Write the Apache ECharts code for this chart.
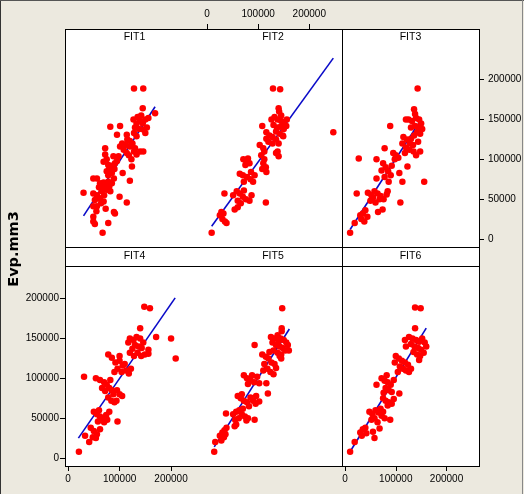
<!DOCTYPE html>
<html>
<head>
<meta charset="utf-8">
<script src="https://cdn.jsdelivr.net/npm/echarts@6/dist/echarts.min.js"></script>
<style>
html,body{margin:0;padding:0;background:#ECE9DF;}
#chart{width:524px;height:494px;}
</style>
</head>
<body>
<div id="chart"></div>
<script>
// ---- data ----
const panels = ['FIT1', 'FIT2', 'FIT3', 'FIT4', 'FIT5', 'FIT6'];
const xTicks = [0, 100000, 200000];
const yTicks = [0, 50000, 100000, 150000, 200000];
const yTitle = 'Evp.mm3';

const fit1 = [
[128000,189000],[146000,189000],[145000,164000],[169000,158000],[82000,141000],[101000,142000],
[127000,150000],[135000,153000],[140000,148000],[145000,145000],[150000,150000],[156000,152000],[130000,140000],[138000,138000],[147000,137000],[153000,140000],[133000,145000],[142000,155000],[128000,133000],[150000,133000],
[114000,131000],[133000,129000],[95000,131000],
[111000,118000],[101000,116000],[120000,116000],[130000,114000],[140000,110000],
[72000,114000],[72000,106000],[146000,110000],
[88000,104000],[98000,104000],[114000,108000],[133000,106000],
[69000,97000],[78000,93000],[91000,95000],[124000,91000],
[75000,85000],[85000,83000],[106000,83000],[89000,76000],[120000,73000],
[49000,76000],[56000,76000],[62000,70000],[69000,71000],[78000,72000],
[30000,58000],[49000,57000],[56000,55000],[65000,60000],[75000,62000],[82000,60000],
[52000,49000],[62000,51000],[69000,47000],[100000,53000],[114000,46000],
[49000,41000],[56000,41000],[73000,38000],[89000,34000],[91000,32000],
[49000,28000],[49000,22000],[52000,19000],[78000,20000],[67000,8000],
[60000,65000],[66000,66000],[72000,67000],[58000,52000],[64000,45000],[70000,55000],[80000,66000],[85000,70000],[55000,35000],
[75000,100000],[80000,88000],[84000,92000],[90000,88000],[95000,98000],[78000,80000],
[105000,120000],[115000,125000],[120000,123000],[125000,120000],[108000,112000],[118000,105000],[123000,100000],[128000,110000]
];
const fit2 = [
[129000,189000],[143000,188000],[140000,164000],[141000,160000],[145000,155000],
[126000,150000],[132000,153000],[138000,150000],[145000,148000],[150000,145000],[155000,142000],[130000,143000],[137000,140000],[144000,141000],[150000,138000],[135000,135000],[142000,132000],[148000,130000],[156000,150000],
[108000,142000],
[116000,134000],[122000,130000],[128000,128000],[135000,125000],[120000,122000],[128000,120000],[140000,120000],[149000,129000],[116000,126000],
[103000,118000],[110000,114000],
[135000,108000],[140000,104000],[138000,110000],
[106000,105000],[112000,100000],[110000,95000],[115000,90000],[108000,88000],[116000,84000],[112000,110000],
[71000,100000],[77000,98000],[83000,95000],[75000,93000],[80000,101000],
[64000,82000],[70000,80000],[78000,78000],[85000,75000],[90000,72000],[93000,80000],[72000,72000],[86000,84000],
[34000,57000],
[51000,55000],[58000,60000],[64000,57000],[70000,53000],[76000,50000],[83000,48000],[87000,55000],[60000,48000],[66000,45000],[72000,61000],
[115000,46000],
[54000,37000],[60000,40000],
[25000,30000],[30000,25000],[35000,22000],[38000,20000],[32000,32000],[28000,34000],
[9000,8000],
[247000,134000]
];
const fit3 = [
[143000,189000],[136000,163000],[138000,157000],
[125000,150000],[132000,148000],[140000,152000],[146000,150000],[150000,145000],[145000,140000],[138000,142000],[130000,140000],[152000,138000],[142000,134000],[136000,130000],[148000,132000],
[120000,150000],[89000,142000],
[115000,128000],[122000,125000],[128000,120000],[134000,118000],[120000,115000],[127000,112000],[135000,110000],[140000,105000],[118000,108000],[113000,120000],[130000,126000],[144000,122000],
[148000,110000],[78000,114000],
[95000,108000],[100000,105000],[105000,102000],[98000,100000],
[27000,101000],[62000,100000],
[75000,95000],[80000,90000],[85000,85000],[90000,80000],[78000,78000],[86000,72000],[92000,92000],[72000,86000],
[123000,91000],[107000,83000],[113000,72000],[62000,76000],[156000,72000],
[23000,57000],
[45000,58000],[52000,55000],[58000,60000],[64000,57000],[70000,54000],[76000,50000],[82000,56000],[50000,48000],[60000,46000],[68000,50000],[84000,60000],[55000,52000],
[109000,46000],
[65000,34000],[74000,37000],
[30000,30000],[35000,32000],[40000,36000],[44000,28000],[38000,22000],[32000,25000],
[19000,20000],[10000,8000]
];
const fit4 = [
[148000,190000],[159000,188000],[140000,163000],
[120000,150000],[127000,148000],[133000,152000],[140000,150000],[146000,145000],[130000,142000],[137000,140000],[143000,138000],[125000,137000],[149000,130000],[135000,132000],[142000,128000],[128000,128000],[120000,132000],[117000,145000],
[171000,152000],[200000,150000],[209000,125000],
[156000,136000],[156000,131000],
[78000,130000],
[85000,126000],[92000,120000],[100000,122000],[106000,116000],[96000,112000],[104000,108000],[90000,108000],[110000,118000],[113000,110000],[118000,106000],[122000,112000],[100000,128000],
[31000,102000],[54000,100000],
[62000,98000],[70000,95000],[75000,92000],[80000,88000],[85000,85000],[88000,80000],[72000,84000],[78000,76000],[84000,72000],[90000,70000],[94000,72000],[66000,88000],[82000,98000],
[95000,85000],[100000,80000],[105000,78000],
[96000,46000],
[50000,58000],[56000,55000],[62000,52000],[68000,50000],[74000,54000],[80000,58000],[60000,60000],[70000,45000],[76000,48000],[58000,46000],
[33000,28000],
[44000,38000],[50000,34000],[56000,30000],[62000,36000],[48000,26000],
[41000,20000],[54000,25000],[21000,8000]
];
const fit5 = [
[147000,188000],[146000,163000],[146000,159000],
[125000,152000],[132000,150000],[138000,154000],[144000,150000],[150000,148000],[155000,145000],[128000,145000],[135000,142000],[142000,140000],[148000,138000],[153000,135000],[130000,135000],[138000,132000],[145000,130000],[140000,147000],[158000,142000],
[93000,142000],[160000,135000],
[142000,128000],[145000,125000],
[108000,130000],[115000,127000],[120000,125000],[126000,120000],[132000,118000],[112000,118000],[118000,112000],[124000,108000],[130000,105000],[110000,110000],[135000,113000],[122000,133000],
[72000,104000],[78000,100000],[85000,98000],[92000,95000],[98000,102000],[102000,94000],[88000,104000],[80000,93000],
[116000,94000],[119000,81000],
[60000,78000],[66000,75000],[72000,72000],[78000,70000],[85000,76000],[90000,72000],[95000,68000],[68000,80000],[82000,65000],[96000,78000],
[102000,71000],
[37000,56000],
[51000,55000],[57000,58000],[63000,60000],[68000,55000],[74000,52000],[80000,50000],[55000,48000],[62000,50000],[70000,62000],[77000,47000],
[93000,48000],
[54000,40000],[57000,42000],
[25000,28000],[30000,32000],[34000,35000],[38000,38000],[28000,22000],[33000,26000],[36000,30000],
[16000,20000],[14000,8000]
];
const fit6 = [
[138000,189000],[149000,188000],[138000,163000],
[126000,152000],[133000,150000],[140000,148000],[146000,146000],[152000,150000],[157000,145000],[130000,143000],[137000,140000],[144000,138000],[150000,136000],[155000,132000],[135000,133000],[142000,130000],[148000,128000],[120000,140000],[118000,148000],[160000,140000],
[146000,123000],
[100000,128000],[106000,125000],[112000,122000],[118000,120000],[124000,117000],[108000,115000],[114000,112000],[120000,110000],[126000,108000],[104000,108000],[130000,112000],[98000,120000],
[62000,92000],
[72000,100000],[78000,97000],[84000,95000],[90000,92000],[80000,88000],[86000,85000],[92000,83000],[76000,82000],[96000,98000],[82000,104000],
[107000,81000],
[75000,75000],[80000,72000],[86000,70000],[92000,68000],[96000,74000],[84000,66000],
[48000,58000],[54000,55000],[60000,60000],[66000,57000],[72000,53000],[78000,50000],[52000,48000],[58000,50000],[64000,45000],[70000,62000],[75000,58000],
[89000,48000],
[55000,33000],[68000,37000],[58000,25000],
[30000,32000],[35000,36000],[40000,38000],[42000,31000],[33000,28000],
[19000,20000],[10000,8000]
];
const points = [fit1, fit2, fit3, fit4, fit5, fit6];

// fitted regression lines (start, end)
const fitLine1 = [[30000,29000],[169000,166000]];
const fitLine2 = [[9000,16000],[247000,227000]];
const fitLine3 = [[10000,12000],[150000,150000]];
const fitLine4 = [[20000,25000],[208000,201000]];
const fitLine5 = [[14000,14000],[161000,162000]];
const fitLine6 = [[8000,6000],[160000,163000]];
const fitLines = [fitLine1, fitLine2, fitLine3, fitLine4, fitLine5, fitLine6];

// ---- layout ----
const colLeft = [65, 204, 342];
const colWidth = [139, 138, 137];
const rowTop = [47, 266];
const rowH = 200;
const FONT = "'Liberation Sans',Arial,sans-serif";

const grids = [], xAxes = [], yAxes = [], series = [];
panels.forEach((name, i) => {
  const r = Math.floor(i / 3), c = i % 3;
  grids.push({left: colLeft[c], top: rowTop[r], width: colWidth[c], height: rowH,
    show: false, containLabel: false, outerBoundsMode: 'none'});
  const showTop = (r === 0 && c === 1);
  const showX = showTop || (r === 1 && c !== 1);
  const showY = (r === 0 && c === 2) || (r === 1 && c === 0);
  xAxes.push({
    gridIndex: i, type: 'value', min: -6000, max: 264000,
    position: showTop ? 'top' : 'bottom', offset: showTop ? 18 : 0,
    axisLine: {show: false, onZero: false},
    axisTick: {show: showX, inside: false, length: 5, customValues: xTicks, lineStyle: {color: '#000', width: 1}},
    axisLabel: {show: showX, customValues: xTicks, margin: showTop ? 10 : 8, color: '#000',
      fontFamily: FONT, fontSize: 10, formatter: v => String(v)},
    splitLine: {show: false}
  });
  yAxes.push({
    gridIndex: i, type: 'value', min: -10000, max: 241000,
    position: (r === 0 && c === 2) ? 'right' : 'left',
    axisLine: {show: false, onZero: false},
    axisTick: {show: showY, inside: false, length: 5, customValues: yTicks, lineStyle: {color: '#000', width: 1}},
    axisLabel: {show: showY, customValues: yTicks, margin: r === 0 ? 9 : 6, color: '#000',
      fontFamily: FONT, fontSize: 10, formatter: v => String(v)},
    splitLine: {show: false}
  });
  series.push({
    type: 'line', xAxisIndex: i, yAxisIndex: i, data: fitLines[i], symbol: 'none',
    lineStyle: {color: '#0A0AC8', width: 1.6}, z: 2, silent: true, animation: false
  });
  series.push({
    type: 'scatter', xAxisIndex: i, yAxisIndex: i, data: points[i], symbol: 'circle', symbolSize: 6.5,
    itemStyle: {color: '#FF0000', opacity: 1}, z: 3, silent: true, animation: false
  });
});

// frame & strip labels
const gfx = [];
gfx.push({type: 'rect', shape: {x: 65, y: 29, width: 414, height: 437}, style: {fill: '#FFFFFF'}, z: 0, silent: true});
const L = (x1, y1, x2, y2, col) => ({type: 'line', shape: {x1, y1, x2, y2}, style: {stroke: col || '#000', lineWidth: 1}, z: 100, silent: true});
gfx.push(L(65, 29.5, 479, 29.5));
gfx.push(L(65.5, 29, 65.5, 467));
gfx.push(L(479.5, 29, 479.5, 467));
gfx.push(L(342.5, 29, 342.5, 467));
gfx.push(L(65, 247.5, 480, 247.5));
gfx.push(L(65, 266.5, 480, 266.5));
gfx.push(L(65, 466.5, 480, 466.5));
// outer picture edges
gfx.push(L(0.5, 0, 0.5, 494, '#333'));
gfx.push(L(0, 0.5, 524, 0.5, '#555'));
gfx.push(L(522.5, 0, 522.5, 494, '#888'));
const stripY = [37, 256];
panels.forEach((name, i) => {
  const r = Math.floor(i / 3), c = i % 3;
  gfx.push({type: 'text', x: colLeft[c] + colWidth[c] / 2, y: stripY[r], z: 100, silent: true,
    style: {text: name, align: 'center', verticalAlign: 'middle', textAlign: 'center', textVerticalAlign: 'middle',
      font: "10.5px 'Liberation Sans',Arial,sans-serif", fill: '#000'}});
});
gfx.push({type: 'text', x: 14, y: 249, rotation: Math.PI / 2, z: 100, silent: true,
  style: {text: yTitle, align: 'center', verticalAlign: 'middle', textAlign: 'center', textVerticalAlign: 'middle',
    font: "bold 14.5px 'DejaVu Sans',Verdana,sans-serif", fill: '#000'}});

const chart = echarts.init(document.getElementById('chart'), null, {renderer: 'canvas'});
chart.setOption({
  backgroundColor: '#ECE9DF',
  animation: false,
  grid: grids,
  xAxis: xAxes,
  yAxis: yAxes,
  series: series,
  graphic: {elements: gfx}
});
</script>
</body>
</html>
